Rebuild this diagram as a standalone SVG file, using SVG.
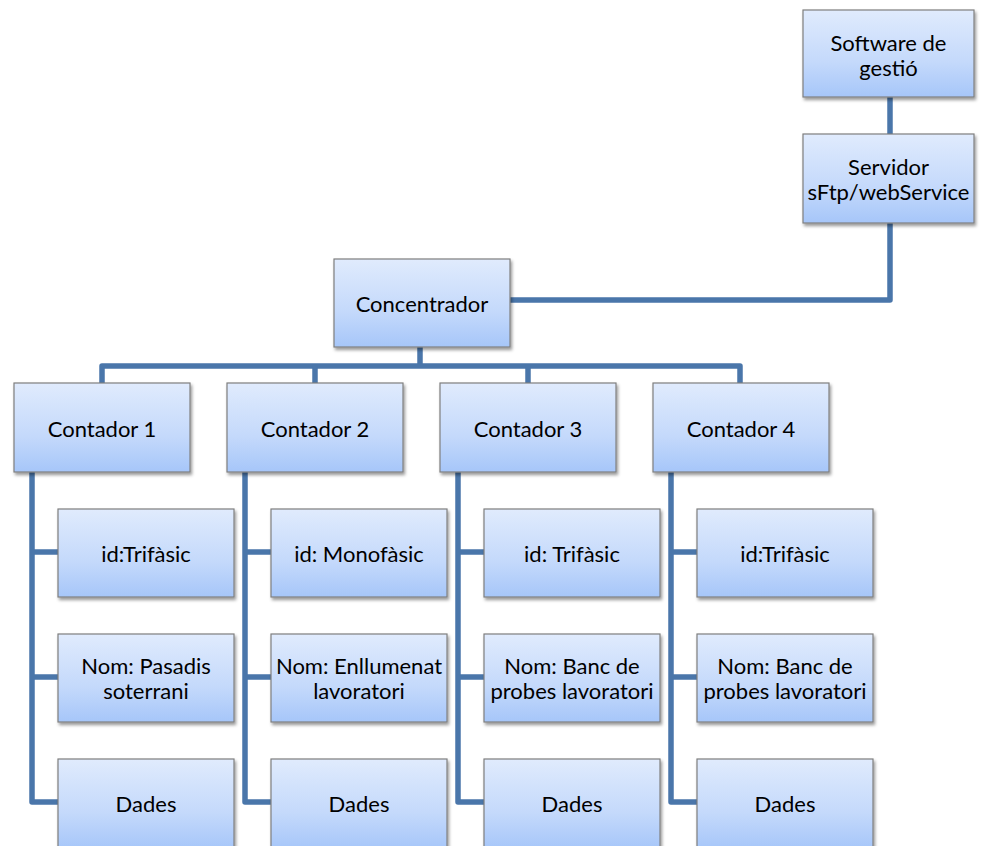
<svg xmlns="http://www.w3.org/2000/svg" width="982" height="846" viewBox="0 0 982 846">
<defs>
<linearGradient id="g" x1="0" y1="0" x2="0" y2="1">
<stop offset="0" stop-color="#e0ebfd"/>
<stop offset="0.6" stop-color="#c4d9fb"/>
<stop offset="1" stop-color="#a6c6f9"/>
</linearGradient>
<filter id="sh" x="-10%" y="-10%" width="125%" height="130%">
<feDropShadow dx="1.5" dy="2.5" stdDeviation="1.8" flood-color="#000" flood-opacity="0.4"/>
</filter>
</defs>
<style>
.b{fill:url(#g);stroke:#7f7f7f;stroke-width:1.2;filter:url(#sh)}
.t{font-family:Lato,"Open Sans","Liberation Sans",sans-serif;font-size:22px;fill:#000;text-anchor:middle;dominant-baseline:central}
.c{fill:none;stroke:#4a76aa;stroke-width:5.5;stroke-linejoin:round}
</style>
<rect width="982" height="846" fill="#fff"/>
<g id="connectors">
<path class="c" d="M890,97 V134"/>
<path class="c" d="M890,223 V300 H510"/>
<path class="c" d="M420,347 V366"/>
<path class="c" d="M102,383 V366 H740 V383"/>
<path class="c" d="M315,366 V383"/>
<path class="c" d="M528,366 V383"/>
<path class="c" d="M32,472 V802 H58 M32,552 H58 M32,677 H58"/>
<path class="c" d="M245,472 V802 H271 M245,552 H271 M245,677 H271"/>
<path class="c" d="M458,472 V802 H484 M458,552 H484 M458,677 H484"/>
<path class="c" d="M671,472 V802 H697 M671,552 H697 M671,677 H697"/>
</g>
<g id="software"><rect class="b" x="803" y="10" width="171" height="87"/><text class="t" x="888.5" y="42">Software de</text><text class="t" x="888.5" y="67">gestió</text></g>
<g id="servidor"><rect class="b" x="803" y="134" width="171" height="89"/><text class="t" x="888.5" y="166">Servidor</text><text class="t" x="888.5" y="191">sFtp/webService</text></g>
<g id="concentrador"><rect class="b" x="334" y="259" width="176" height="88"/><text class="t" x="422" y="303">Concentrador</text></g>
<g id="contador1"><rect class="b" x="14" y="383" width="176" height="89"/><text class="t" x="102" y="428">Contador 1</text></g>
<g id="contador2"><rect class="b" x="227" y="383" width="176" height="89"/><text class="t" x="315" y="428">Contador 2</text></g>
<g id="contador3"><rect class="b" x="440" y="383" width="176" height="89"/><text class="t" x="528" y="428">Contador 3</text></g>
<g id="contador4"><rect class="b" x="653" y="383" width="176" height="89"/><text class="t" x="741" y="428">Contador 4</text></g>
<g id="id1"><rect class="b" x="58" y="509" width="176" height="88"/><text class="t" x="146" y="553">id:Trifàsic</text></g>
<g id="nom1"><rect class="b" x="58" y="634" width="176" height="88"/><text class="t" x="146" y="665">Nom: Pasadis</text><text class="t" x="146" y="690">soterrani</text></g>
<g id="dades1"><rect class="b" x="58" y="759" width="176" height="90"/><text class="t" x="146" y="803">Dades</text></g>
<g id="id2"><rect class="b" x="271" y="509" width="176" height="88"/><text class="t" x="359" y="553">id: Monofàsic</text></g>
<g id="nom2"><rect class="b" x="271" y="634" width="176" height="88"/><text class="t" x="359" y="665">Nom: Enllumenat</text><text class="t" x="359" y="690">lavoratori</text></g>
<g id="dades2"><rect class="b" x="271" y="759" width="176" height="90"/><text class="t" x="359" y="803">Dades</text></g>
<g id="id3"><rect class="b" x="484" y="509" width="176" height="88"/><text class="t" x="572" y="553">id: Trifàsic</text></g>
<g id="nom3"><rect class="b" x="484" y="634" width="176" height="88"/><text class="t" x="572" y="665">Nom: Banc de</text><text class="t" x="572" y="690">probes lavoratori</text></g>
<g id="dades3"><rect class="b" x="484" y="759" width="176" height="90"/><text class="t" x="572" y="803">Dades</text></g>
<g id="id4"><rect class="b" x="697" y="509" width="176" height="88"/><text class="t" x="785" y="553">id:Trifàsic</text></g>
<g id="nom4"><rect class="b" x="697" y="634" width="176" height="88"/><text class="t" x="785" y="665">Nom: Banc de</text><text class="t" x="785" y="690">probes lavoratori</text></g>
<g id="dades4"><rect class="b" x="697" y="759" width="176" height="90"/><text class="t" x="785" y="803">Dades</text></g>
</svg>
